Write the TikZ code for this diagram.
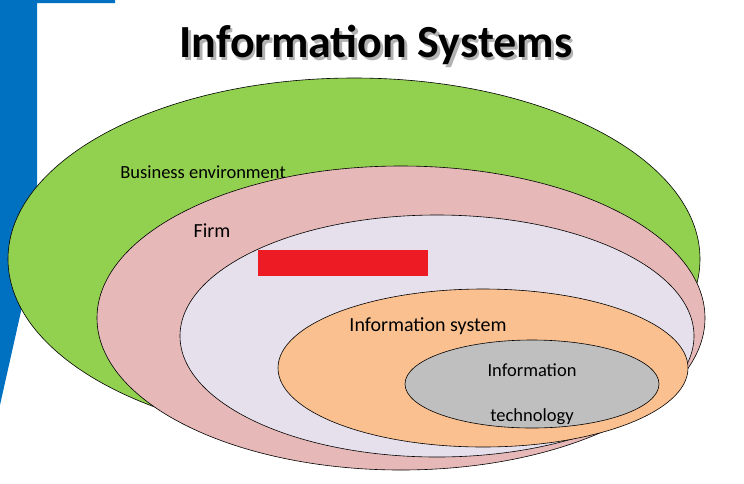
\documentclass[tikz,border=0pt]{standalone}
\usepackage{fontspec}
\setmainfont{Carlito}
\definecolor{cblue}{RGB}{0,112,192}
\definecolor{cgreen}{RGB}{146,208,80}
\definecolor{cpink}{RGB}{230,184,183}
\definecolor{clav}{RGB}{229,224,236}
\definecolor{corange}{RGB}{250,192,143}
\definecolor{cgray}{RGB}{191,191,191}
\definecolor{cred}{RGB}{237,28,36}
\begin{document}
\begin{tikzpicture}[x=1pt,y=-1pt,
  ell/.style={draw=black,line width=0.6pt},
  lbl/.style={font=\fontsize{18.5}{22}\selectfont}]
\useasboundingbox (0,0) rectangle (744,483);
\fill[cblue] (0,0) -- (115,0) -- (115,3) -- (37,3) -- (37,240) -- (0,405) -- cycle;
\node[font=\bfseries\fontsize{46}{50}\selectfont,text=black!30] at (378.5,47.5) {Information Systems};
\node (title) [font=\bfseries\fontsize{46}{50}\selectfont] at (376,45) {Information Systems};
\filldraw[ell,fill=cgreen] (354,259) ellipse [x radius=346, y radius=181];
\filldraw[ell,fill=cpink] (401,318) ellipse [x radius=304, y radius=152];
\filldraw[ell,fill=clav] (437,336) ellipse [x radius=257, y radius=121];
\filldraw[ell,fill=corange] (483,368) ellipse [x radius=205, y radius=79];
\filldraw[ell,fill=cgray] (532,384) ellipse [x radius=127, y radius=44];
\fill[cred] (258,250) rectangle (428,276);
\node (be) [lbl] at (203,172) {Business environment};
\node (firm) [font=\fontsize{20}{24}\selectfont] at (212,231) {Firm};
\node (is) [font=\fontsize{20}{24}\selectfont] at (428,326) {Information system};
\node (it1) [lbl] at (532,370) {Information};
\node (it2) [lbl] at (532,417) {technology};
\end{tikzpicture}
\end{document}
